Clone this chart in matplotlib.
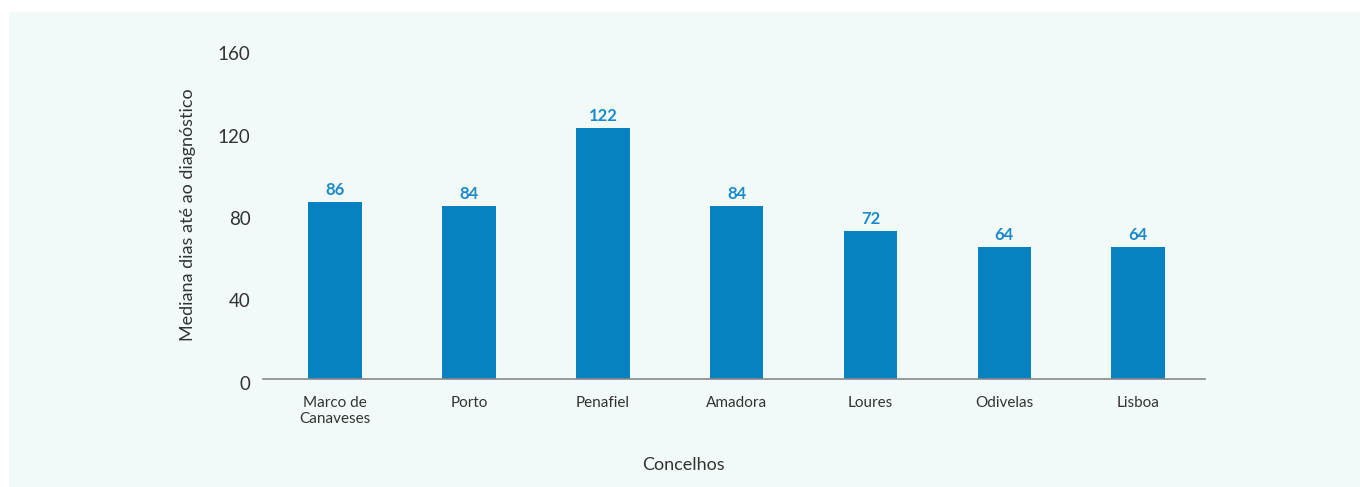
import matplotlib
matplotlib.use("Agg")
import matplotlib.pyplot as plt
import matplotlib.transforms as mtransforms
from matplotlib.patches import Rectangle

# -----------------------------
# Datos
# -----------------------------
concelhos = ["Marco de\nCanaveses", "Porto", "Penafiel", "Amadora", "Loures", "Odivelas", "Lisboa"]
mediana_dias = [86, 84, 122, 84, 72, 64, 64]
yticks = [0, 40, 80, 120, 160]

bar_color = "#0682C0"
label_color = "#1A8AC9"
text_color = "#333333"
panel_color = "#F1FAF8"

plt.rcParams["font.family"] = ["Lato", "DejaVu Sans"]

fig = plt.figure(figsize=(13.6, 4.87), dpi=100)
fig.patch.set_facecolor("white")
fig.patches.append(Rectangle((9 / 1360, 0), 1 - 9 / 1360, 1 - 12 / 487,
                             transform=fig.transFigure, facecolor=panel_color,
                             edgecolor="none", zorder=-10))

ax = fig.add_axes([263 / 1360, 108 / 487, (1205 - 263) / 1360, (379 - 50) / 487])
ax.set_facecolor("none")

x = list(range(len(concelhos)))
bars = ax.bar(x, mediana_dias, width=0.40, color=bar_color, zorder=2)

for xi, v in zip(x, mediana_dias):
    ax.annotate(str(v), (xi, v), xytext=(0, 3), textcoords="offset points",
                ha="center", va="bottom", fontsize=12, fontweight="bold",
                color=label_color)

ax.set_xlim(-0.54, 6.5)
ax.set_ylim(0, 160)
ax.set_yticks(yticks)
ax.set_yticklabels([str(t) for t in yticks], fontsize=13.5, color=text_color)
ax.set_xticks(x)
ax.set_xticklabels(concelhos, fontsize=11, color=text_color, linespacing=1.25)
ax.tick_params(axis="both", length=0)
ax.tick_params(axis="y", pad=9)
ax.tick_params(axis="x", pad=12)

# etiquetas del eje y un poco más abajo, como en el original
shift = mtransforms.ScaledTranslation(0, -3.5 / 100, fig.dpi_scale_trans)
for lab in ax.get_yticklabels():
    lab.set_transform(lab.get_transform() + shift)

for s in ["top", "right", "left"]:
    ax.spines[s].set_visible(False)
ax.spines["bottom"].set_color("#888888")
ax.spines["bottom"].set_linewidth(1.2)

ax.set_ylabel("Mediana dias até ao diagnóstico", fontsize=13, color=text_color, labelpad=16)
fig.text(683 / 1360, 1 - 465 / 487, "Concelhos", fontsize=13, color=text_color,
         ha="center", va="center")

fig.savefig("out.png", dpi=100)
